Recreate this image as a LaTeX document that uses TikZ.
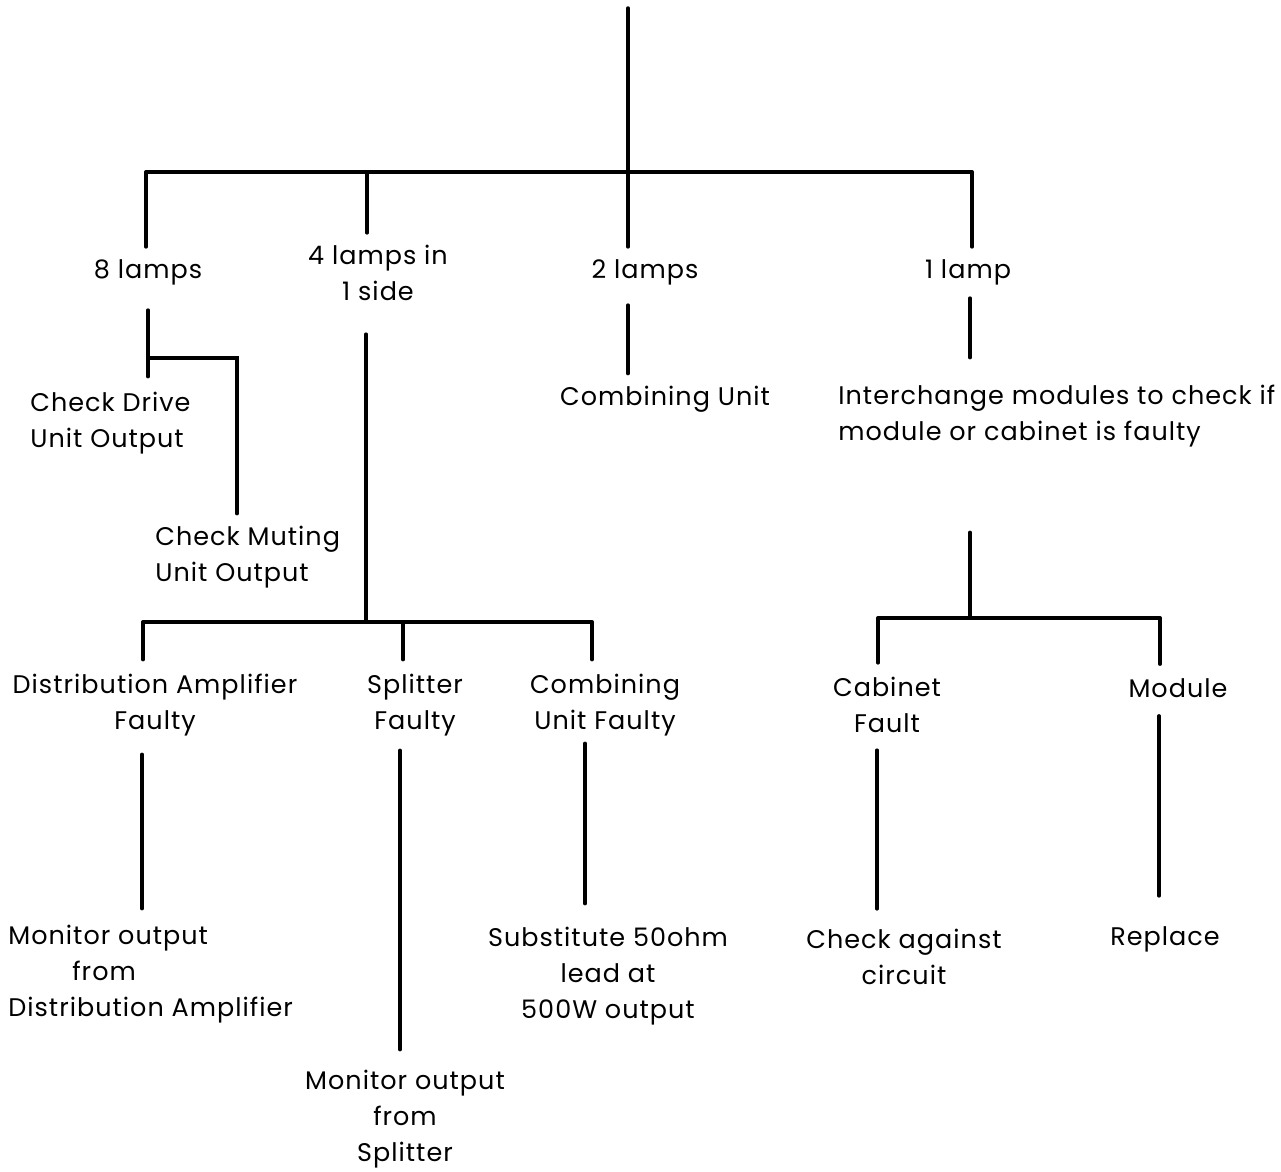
\documentclass[tikz,border=0pt]{standalone}
\usepackage{fontspec}
\setmainfont{Poppins}[LetterSpace=4]
\usetikzlibrary{positioning, calc}

\begin{document}
\begin{tikzpicture}[
  x=0.02cm, y=-0.02cm,
  every node/.style = {font=\fontsize{14.5}{20.5}\selectfont, inner sep=0pt},
  label/.style      = {align=center},
  leftlabel/.style  = {align=left, anchor=west},
  wire/.style       = {line width=2pt, line cap=round},
]
\useasboundingbox (0,0) rectangle (1281,1171);

% Top level
\coordinate (root) at (628,8);
\coordinate (hub)  at (628,172);
\coordinate (b8)   at (146,172);
\coordinate (b4)   at (367,172);
\coordinate (b1)   at (972,172);

\node[label] (lamps8) at (148,272) {8 lamps};
\node[label] (lamps4) at (378,273) {4 lamps in\\1 side};
\node[label] (lamps2) at (645,272) {2 lamps};
\node[label] (lamp1)  at (968,272) {1 lamp};

\draw[wire] (root) -- (hub);
\draw[wire] (b8) -- (b1);
\draw[wire] (b8)  -- ($(b8 |- lamps8.north)+(0,-12)$);
\draw[wire] (b4)  -- ($(b4 |- lamps4.north)+(0,-12)$);
\draw[wire] (hub) -- ($(hub |- lamps2.north)+(0,-12)$);
\draw[wire] (b1)  -- ($(b1 |- lamp1.north)+(0,-12)$);

% 8 lamps
\node[leftlabel] (drive)  at (30,423)  {Check Drive\\Unit Output};
\node[leftlabel] (muting) at (155,557) {Check Muting\\Unit Output};
\coordinate (k8) at (148,358);
\coordinate (m8) at (237,358);

\draw[wire] ($(lamps8.south)+(0,25)$) -- ($(k8 |- drive.north)+(0,-15)$);
\draw[wire] (k8) -- (m8) -- ($(m8 |- muting.north)+(0,-12)$);

% 4 lamps in 1 side
\node[label] (distamp)   at (155,705) {Distribution Amplifier\\Faulty};
\node[label] (splitter)  at (415,705) {Splitter\\Faulty};
\node[label] (combfault) at (605,705) {Combining\\Unit Faulty};
\coordinate (k4) at (366,622);
\coordinate (da) at (143,622);
\coordinate (sp) at (403,622);
\coordinate (cf) at (592,622);

\draw[wire] ($(k4 |- lamps4.south)+(0,33)$) -- (k4);
\draw[wire] (da) -- (cf);
\draw[wire] (da) -- ($(da |- distamp.north)+(0,-14)$);
\draw[wire] (sp) -- ($(sp |- splitter.north)+(0,-14)$);
\draw[wire] (cf) -- ($(cf |- combfault.north)+(0,-14)$);

\node[leftlabel] (mondist) at (8,974) {Monitor output\\\hspace{1.28cm}from\\Distribution Amplifier};
\node[label] (monsplit) at (405,1119) {Monitor output\\from\\Splitter};
\node[label] (subst)    at (608,976)  {Substitute 50ohm\\lead at\\500W output};

\draw[wire] ($(distamp.south -| 142,0)+(0,18)$) -- ($(mondist.north -| 142,0)+(0,-16)$);
\draw[wire] ($(splitter.south -| 400,0)+(0,14)$) -- ($(monsplit.north -| 400,0)+(0,-20)$);
\draw[wire] ($(combfault.south -| 585,0)+(0,7)$) -- ($(subst.north -| 585,0)+(0,-23)$);

% 2 lamps
\node[label] (combunit) at (665,399) {Combining Unit};
\draw[wire] ($(lamps2.south -| hub)+(0,20)$) -- ($(combunit.north -| hub)+(0,-12)$);

% 1 lamp
\node[leftlabel] (inter) at (838,416) {Interchange modules to check if\\module or cabinet is faulty};
\coordinate (k1)  at (970,618);
\coordinate (cab) at (878,618);
\coordinate (mod) at (1160,618);

\draw[wire] ($(lamp1.south -| k1)+(0,13)$) -- ($(inter.north -| k1)+(0,-27)$);
\draw[wire] ($(inter.south -| k1)+(0,85)$) -- (k1);
\draw[wire] (cab) -- (mod);

\node[label] (cabinet) at (887,705) {Cabinet\\Fault};
\node[label] (module)  at (1178,688) {Module};
\node[label] (against) at (904,957) {Check against\\circuit};
\node[label] (replace) at (1165,939) {Replace};

\draw[wire] (cab) -- ($(cab |- cabinet.north)+(0,-14)$);
\draw[wire] (mod) -- ($(mod |- module.north)+(0,-14)$);
\draw[wire] ($(cabinet.south -| 877,0)+(0,17)$) -- ($(against.north -| 877,0)+(0,-20)$);
\draw[wire] ($(module.south -| 1159,0)+(0,18)$) -- ($(replace.north -| 1159,0)+(0,-30)$);

\end{tikzpicture}
\end{document}
